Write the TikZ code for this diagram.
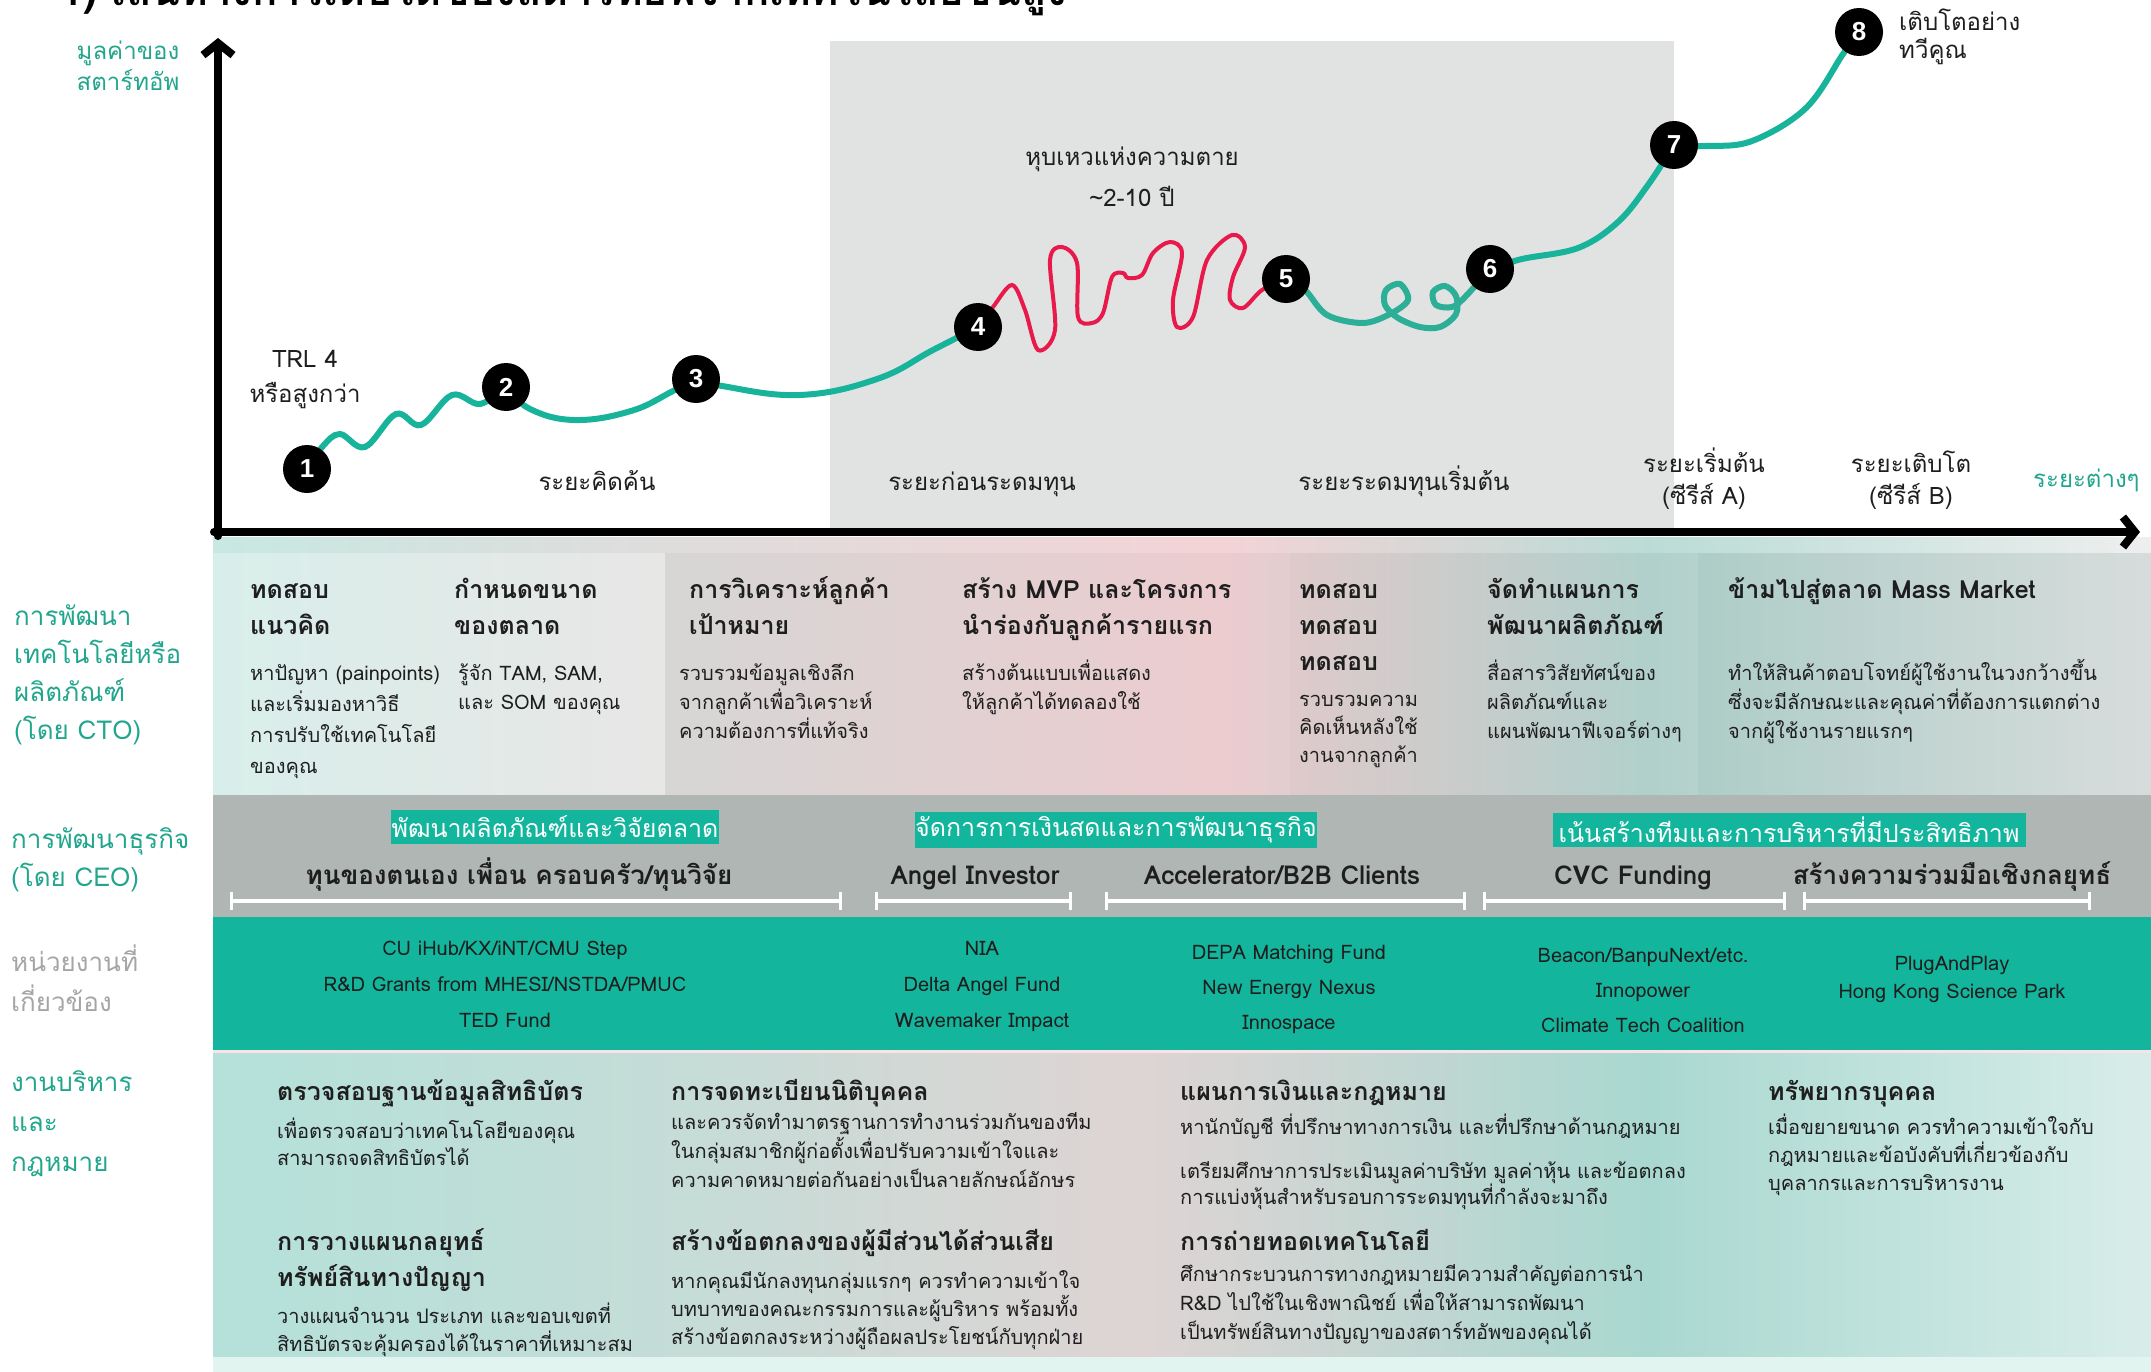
\documentclass[tikz,border=0pt]{standalone}
\usepackage{fontspec}
\setmainfont{Loma}[Script=Thai]
\newfontfamily\numfont{Liberation Sans}
\usetikzlibrary{arrows.meta}
\definecolor{tealtxt}{HTML}{21A68D}
\definecolor{tealband}{HTML}{13B69D}
\definecolor{curveteal}{HTML}{17B39B}
\definecolor{curveteal2}{HTML}{2CAE97}
\definecolor{redcurve}{HTML}{E8194B}
\definecolor{valley}{HTML}{E1E3E2}
\definecolor{bizgray}{HTML}{AFB6B4}
\definecolor{graytxt}{HTML}{A5A5A5}
\definecolor{ink}{HTML}{1E1E1E}
\definecolor{mint}{HTML}{E2F4F0}
\definecolor{t1}{HTML}{C8E8E2}
\definecolor{t2}{HTML}{DCDEDD}
\definecolor{t3}{HTML}{F4D3D6}
\definecolor{t4}{HTML}{BBDCD6}
\definecolor{t5}{HTML}{EDEFEE}
\definecolor{g1}{HTML}{B4E1DA}
\definecolor{g2}{HTML}{C5DCD7}
\definecolor{g3}{HTML}{DED4D4}
\definecolor{g4}{HTML}{A9D8D0}
\definecolor{g5}{HTML}{D8EDE9}
\pgfdeclarehorizontalshading{techband}{100bp}{color(0bp)=(t1); color(25bp)=(t1); color(35bp)=(t2); color(51bp)=(t3); color(62bp)=(t4); color(75bp)=(t5); color(100bp)=(t5)}
\pgfdeclarehorizontalshading{legalband}{100bp}{color(0bp)=(g1); color(25bp)=(g1); color(37bp)=(g2); color(49bp)=(g3); color(62bp)=(g4); color(75bp)=(g5); color(100bp)=(g5)}
\pgfdeclarelayer{bg}
\pgfdeclarelayer{wire}
\pgfsetlayers{bg,wire,main}
\newcommand\tstackl[1]{\vtop{\lineskiplimit=-100pt\let\\\cr\halign{##\hfil\cr#1\crcr}}}
\newcommand\tstackc[1]{\vtop{\lineskiplimit=-100pt\let\\\cr\halign{\hfil##\hfil\cr#1\crcr}}}
\tikzset{
lbl/.style={font=\fontsize{26}{38}\selectfont, text=tealtxt, anchor=base west, inner sep=0},
tag/.style={font=\fontsize{24}{33}\selectfont, text=ink, anchor=base, inner sep=0},
head/.style={font=\bfseries\fontsize{25}{36}\selectfont, text=ink, anchor=base west, inner sep=0},
body/.style={font=\fontsize{20}{29}\selectfont, text=ink, anchor=base west, inner sep=0},
fund/.style={font=\fontsize{20}{36}\selectfont, text=ink, anchor=base, inner sep=0},
stage/.style={font=\bfseries\fontsize{26}{30}\selectfont, text=ink, anchor=base, inner sep=0},
hl/.style={fill=tealband, text=white, font=\fontsize{25}{30}\selectfont, inner sep=0},
numdot/.style={circle, fill=black, minimum size=48, inner sep=0, text=white, font=\numfont\bfseries\fontsize{26}{26}\selectfont},
wave/.style={line width=6, curveteal, line cap=round},
spanbar/.style={white, line width=4, {Bar[width=18pt,line width=3pt]}-{Bar[width=18pt,line width=3pt]}},
axisline/.style={line width=8, line cap=round, -{Straight Barb[length=12pt,width=30pt]}},
}

\begin{document}
\begin{tikzpicture}[x=1pt,y=-1pt]
\useasboundingbox (0,0) rectangle (2151,1372);

\begin{pgfonlayer}{bg}
\fill[valley] (830,41) rectangle (1674,532);
\shade[shading=techband] (213,537) rectangle (2151,795);
\fill[white, opacity=0.3] (213,553) rectangle (665,795);
\fill[black, opacity=0.03] (665,553) rectangle (1290,795);
\fill[black, opacity=0.05] (1290,553) rectangle (1698,795);
\fill[black!70!teal, opacity=0.09] (1698,553) rectangle (2151,795);
\fill[bizgray] (213,795) rectangle (2151,917);
\fill[tealband] (213,917) rectangle (2151,1050);
\fill[t3!60!white] (213,1050) rectangle (2151,1053);
\shade[shading=legalband] (213,1053) rectangle (2151,1357);
\fill[mint] (213,1357) rectangle (2151,1372);
\end{pgfonlayer}

\node[font=\bfseries\fontsize{42}{42}\selectfont, anchor=base west, inner sep=0] (title) at (60,6) {1) เส้นทางการเติบโตของสตาร์ทอัพจากเทคโนโลยีขั้นสูง};

\draw[axisline] (218,536) -- (218,38);
\draw[axisline] (214,532) -- (2140,532);

\node[lbl, anchor=base, font=\fontsize{24}{31}\selectfont] (l_value) at (128,60) {\tstackc{มูลค่าของ\\สตาร์ทอัพ}};

\node[numdot] (n1) at (307,469) {1};
\node[numdot] (n2) at (506,387) {2};
\node[numdot] (n3) at (696,379) {3};
\node[numdot] (n4) at (978,327) {4};
\node[numdot] (n5) at (1286,279) {5};
\node[numdot] (n6) at (1490,269) {6};
\node[numdot] (n7) at (1674,145) {7};
\node[numdot] (n8) at (1859,32) {8};

\begin{pgfonlayer}{wire}
\draw[wave] plot[smooth, tension=0.6] coordinates {(n1.center) (323,446) (340,434) (365,447) (396,414) (421,425) (452,395) (480,404) (n2.center)};
\draw[wave] plot[smooth, tension=0.7] coordinates {(n2.center) (530,409) (575,420) (631,411) (673,391) (n3.center)};
\draw[wave] plot[smooth, tension=0.7] coordinates {(n3.center) (722,386) (800,395) (877,379) (933,350) (n4.center)};
\draw[redcurve, line width=4, line cap=round] plot[smooth, tension=0.55] coordinates {(n4.center) (993,307) (1012,285) (1025,310) (1038,350) (1055,330) (1050,260) (1062,247) (1077,263) (1078,317) (1092,323) (1103,313) (1112,277) (1123,273) (1128,278) (1142,275) (1153,253) (1170,242) (1182,253) (1173,300) (1177,327) (1193,317) (1207,260) (1232,235) (1245,247) (1233,277) (1230,300) (1243,308) (1262,290) (n5.center)};
\draw[wave, curveteal2] plot[smooth, tension=0.55] coordinates {(n5.center) (1305,290) (1327,315) (1363,323) (1390,314) (1408,300) (1400,284) (1386,290) (1385,305) (1398,318) (1420,327) (1440,327) (1456,314) (1456,296) (1445,286) (1433,292) (1436,305) (1452,307) (1465,297) (n6.center)};
\draw[wave] plot[smooth, tension=0.6] coordinates {(n6.center) (1522,259) (1578,248) (1618,222) (1648,185) (n7.center)};
\draw[wave] plot[smooth, tension=0.6] coordinates {(n7.center) (1706,146) (1752,141) (1806,108) (1843,54) (n8.center)};
\end{pgfonlayer}

\node[tag, font=\fontsize{24}{35}\selectfont] (trl) at (305,367) {\tstackc{TRL 4\\หรือสูงกว่า}};
\node[tag] (ph_ideation) at (597,490) {ระยะคิดค้น};
\node[tag] (ph_preseed) at (982,490) {ระยะก่อนระดมทุน};
\node[tag, font=\fontsize{24}{41}\selectfont] (valley_lbl) at (1132,166) {\tstackc{หุบเหวแห่งความตาย\\\textasciitilde 2-10 ปี}};
\node[tag] (ph_seed) at (1404,490) {ระยะระดมทุนเริ่มต้น};
\node[tag, font=\fontsize{24}{32}\selectfont] (ph_a) at (1704,472) {\tstackc{ระยะเริ่มต้น\\(ซีรีส์ A)}};
\node[tag, font=\fontsize{24}{32}\selectfont] (ph_b) at (1911,472) {\tstackc{ระยะเติบโต\\(ซีรีส์ B)}};
\node[tag, text=tealtxt, anchor=base west] (ph_more) at (2033,487) {ระยะต่างๆ};
\node[tag, anchor=base west, font=\fontsize{24}{28}\selectfont] (growth) at (1899,31) {\tstackl{เติบโตอย่าง\\ทวีคูณ}};

\node[lbl] (l_tech) at (14,625) {\tstackl{การพัฒนา\\เทคโนโลยีหรือ\\ผลิตภัณฑ์\\(โดย CTO)}};
\node[lbl] (l_biz) at (11,848) {\tstackl{การพัฒนาธุรกิจ\\(โดย CEO)}};
\node[lbl, text=graytxt, font=\fontsize{26}{40}\selectfont] (l_agency) at (11,971) {\tstackl{หน่วยงานที่\\เกี่ยวข้อง}};
\node[lbl, font=\fontsize{26}{40}\selectfont] (l_legal) at (11,1091) {\tstackl{งานบริหาร\\และ\\กฎหมาย}};

\node[head] (h_concept) at (250,598) {\tstackl{ทดสอบ\\แนวคิด}};
\node[body, font=\fontsize{20}{31}\selectfont] (b_concept) at (250,680) {\tstackl{หาปัญหา (painpoints)\\และเริ่มมองหาวิธี\\การปรับใช้เทคโนโลยี\\ของคุณ}};
\node[head] (h_market) at (454,598) {\tstackl{กำหนดขนาด\\ของตลาด}};
\node[body] (b_market) at (458,680) {\tstackl{รู้จัก TAM, SAM,\\และ SOM ของคุณ}};
\node[head] (h_customer) at (689,598) {\tstackl{การวิเคราะห์ลูกค้า\\เป้าหมาย}};
\node[body] (b_customer) at (679,680) {\tstackl{รวบรวมข้อมูลเชิงลึก\\จากลูกค้าเพื่อวิเคราะห์\\ความต้องการที่แท้จริง}};
\node[head] (h_mvp) at (962,598) {\tstackl{สร้าง MVP และโครงการ\\นำร่องกับลูกค้ารายแรก}};
\node[body] (b_mvp) at (962,680) {\tstackl{สร้างต้นแบบเพื่อแสดง\\ให้ลูกค้าได้ทดลองใช้}};
\node[head] (h_test) at (1299,598) {\tstackl{ทดสอบ\\ทดสอบ\\ทดสอบ}};
\node[body, font=\fontsize{20}{28}\selectfont] (b_test) at (1299,706) {\tstackl{รวบรวมความ\\คิดเห็นหลังใช้\\งานจากลูกค้า}};
\node[head] (h_plan) at (1487,598) {\tstackl{จัดทำแผนการ\\พัฒนาผลิตภัณฑ์}};
\node[body] (b_plan) at (1487,680) {\tstackl{สื่อสารวิสัยทัศน์ของ\\ผลิตภัณฑ์และ\\แผนพัฒนาฟีเจอร์ต่างๆ}};
\node[head] (h_mass) at (1728,598) {ข้ามไปสู่ตลาด Mass Market};
\node[body] (b_mass) at (1728,680) {\tstackl{ทำให้สินค้าตอบโจทย์ผู้ใช้งานในวงกว้างขึ้น\\ซึ่งจะมีลักษณะและคุณค่าที่ต้องการแตกต่าง\\จากผู้ใช้งานรายแรกๆ}};

\node[hl, minimum width=328, minimum height=34] (hl_product) at (555,827) {พัฒนาผลิตภัณฑ์และวิจัยตลาด};
\node[hl, minimum width=402, minimum height=36] (hl_cash) at (1116,830) {จัดการการเงินสดและการพัฒนาธุรกิจ};
\node[hl, minimum width=473, minimum height=34] (hl_team) at (1789,830) {เน้นสร้างทีมและการบริหารที่มีประสิทธิภาพ};
\node[stage] (s_own) at (519,884) {ทุนของตนเอง เพื่อน ครอบครัว/ทุนวิจัย};
\node[stage] (s_angel) at (975,884) {Angel Investor};
\node[stage] (s_accel) at (1282,884) {Accelerator/B2B Clients};
\node[stage] (s_cvc) at (1633,884) {CVC Funding};
\node[stage] (s_alliance) at (1952,884) {สร้างความร่วมมือเชิงกลยุทธ์};
\draw[spanbar] (230,901) -- (842,901);
\draw[spanbar] (875,901) -- (1072,901);
\draw[spanbar] (1105,901) -- (1466,901);
\draw[spanbar] (1483,901) -- (1786,901);
\draw[spanbar] (1803,901) -- (2091,901);

\node[fund] (f_univ) at (505,955) {\tstackc{CU iHub/KX/iNT/CMU Step\\R\&D Grants from MHESI/NSTDA/PMUC\\TED Fund}};
\node[fund] (f_angel) at (982,955) {\tstackc{NIA\\Delta Angel Fund\\Wavemaker Impact}};
\node[fund, font=\fontsize{20}{35}\selectfont] (f_accel) at (1289,959) {\tstackc{DEPA Matching Fund\\New Energy Nexus\\Innospace}};
\node[fund, font=\fontsize{20}{35}\selectfont] (f_cvc) at (1643,962) {\tstackc{Beacon/BanpuNext/etc.\\Innopower\\Climate Tech Coalition}};
\node[fund, font=\fontsize{20}{28}\selectfont] (f_alliance) at (1952,970) {\tstackc{PlugAndPlay\\Hong Kong Science Park}};

\node[head] (h_patent) at (277,1100) {ตรวจสอบฐานข้อมูลสิทธิบัตร};
\node[body, font=\fontsize{20}{27}\selectfont] (b_patent) at (277,1138) {\tstackl{เพื่อตรวจสอบว่าเทคโนโลยีของคุณ\\สามารถจดสิทธิบัตรได้}};
\node[head] (h_ipplan) at (277,1250) {\tstackl{การวางแผนกลยุทธ์\\ทรัพย์สินทางปัญญา}};
\node[body, font=\fontsize{20}{28}\selectfont] (b_ipplan) at (277,1323) {\tstackl{วางแผนจำนวน ประเภท และขอบเขตที่\\สิทธิบัตรจะคุ้มครองได้ในราคาที่เหมาะสม}};
\node[head] (h_company) at (671,1100) {การจดทะเบียนนิติบุคคล};
\node[body] (b_company) at (671,1129) {\tstackl{และควรจัดทำมาตรฐานการทำงานร่วมกันของทีม\\ในกลุ่มสมาชิกผู้ก่อตั้งเพื่อปรับความเข้าใจและ\\ความคาดหมายต่อกันอย่างเป็นลายลักษณ์อักษร}};
\node[head] (h_stake) at (671,1250) {สร้างข้อตกลงของผู้มีส่วนได้ส่วนเสีย};
\node[body, font=\fontsize{20}{28}\selectfont] (b_stake) at (671,1288) {\tstackl{หากคุณมีนักลงทุนกลุ่มแรกๆ ควรทำความเข้าใจ\\บทบาทของคณะกรรมการและผู้บริหาร พร้อมทั้ง\\สร้างข้อตกลงระหว่างผู้ถือผลประโยชน์กับทุกฝ่าย}};
\node[head] (h_finance) at (1180,1100) {แผนการเงินและกฎหมาย};
\node[body] (b_finance) at (1180,1134) {หานักบัญชี ที่ปรึกษาทางการเงิน และที่ปรึกษาด้านกฎหมาย};
\node[body, font=\fontsize{20}{26}\selectfont] (b_valuation) at (1180,1178) {\tstackl{เตรียมศึกษาการประเมินมูลค่าบริษัท มูลค่าหุ้น และข้อตกลง\\การแบ่งหุ้นสำหรับรอบการระดมทุนที่กำลังจะมาถึง}};
\node[head] (h_transfer) at (1180,1250) {การถ่ายทอดเทคโนโลยี};
\node[body] (b_transfer) at (1180,1281) {\tstackl{ศึกษากระบวนการทางกฎหมายมีความสำคัญต่อการนำ\\R\&D ไปใช้ในเชิงพาณิชย์ เพื่อให้สามารถพัฒนา\\เป็นทรัพย์สินทางปัญญาของสตาร์ทอัพของคุณได้}};
\node[head] (h_hr) at (1768,1100) {ทรัพยากรบุคคล};
\node[body, font=\fontsize{20}{28}\selectfont] (b_hr) at (1768,1134) {\tstackl{เมื่อขยายขนาด ควรทำความเข้าใจกับ\\กฎหมายและข้อบังคับที่เกี่ยวข้องกับ\\บุคลากรและการบริหารงาน}};
\end{tikzpicture}
\end{document}
